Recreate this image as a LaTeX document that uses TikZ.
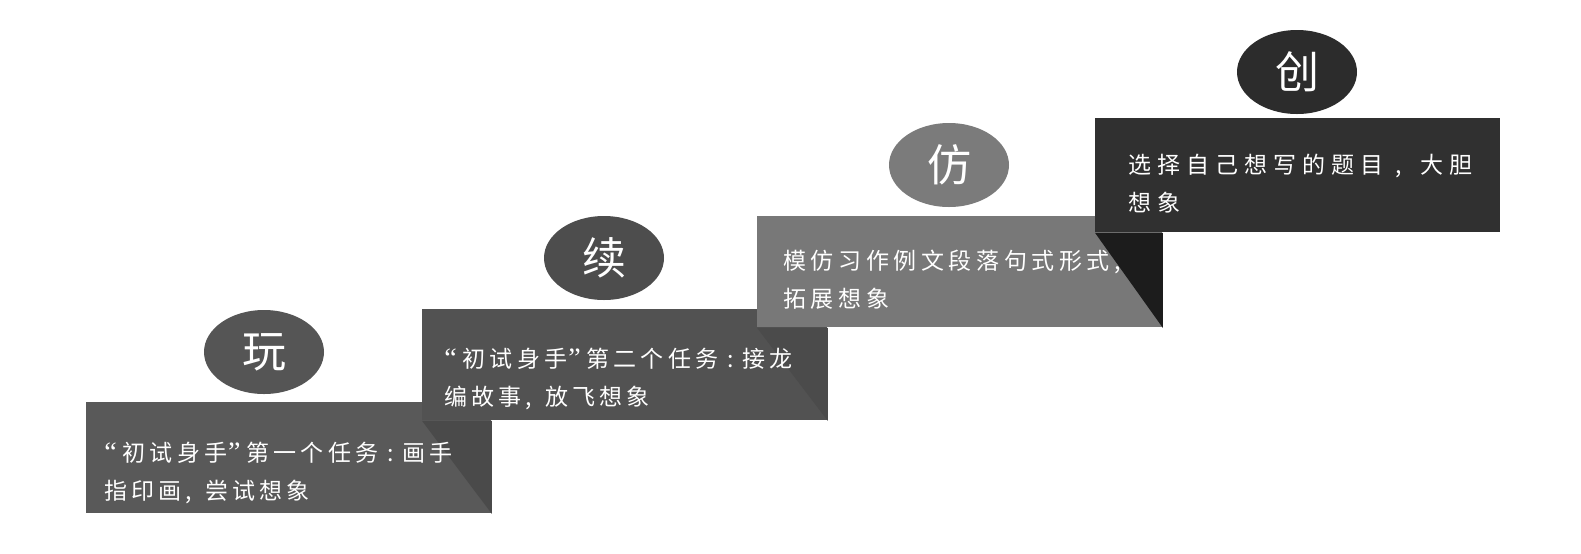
\documentclass[tikz,border=0pt]{standalone}
\usepackage{fontspec}
\setmainfont{Noto Sans CJK SC}
\newfontfamily\cjkA[LetterSpace=18]{Noto Sans CJK SC}
\newfontfamily\cjkB[LetterSpace=20]{Noto Sans CJK SC}
\newfontfamily\cjkC[LetterSpace=26]{Noto Sans CJK SC}
\newfontfamily\cjkT{Noto Sans CJK SC}
\newfontfamily\quotefont{Liberation Serif}
\newcommand{\qopen}{{\quotefont\fontsize{14}{19}\selectfont “}\hspace{3pt}}
\newcommand{\qclose}{\hspace{0.5pt}{\quotefont\fontsize{14}{19}\selectfont ”}\hspace{3pt}}
\usetikzlibrary{shapes.geometric}
\definecolor{boxA}{HTML}{595959}
\definecolor{triA}{HTML}{4A4A4A}
\definecolor{ellA}{HTML}{555555}
\definecolor{boxB}{HTML}{525252}
\definecolor{triB}{HTML}{4B4B4B}
\definecolor{ellB}{HTML}{4D4D4D}
\definecolor{boxC}{HTML}{787878}
\definecolor{triC}{HTML}{1C1C1C}
\definecolor{ellC}{HTML}{7B7B7B}
\definecolor{boxD}{HTML}{303030}
\definecolor{ellD}{HTML}{2C2C2C}
\tikzset{
  stepbox/.style={rectangle, draw=none, inner sep=0pt, minimum width=202.5pt, minimum height=55.5pt, anchor=north west},
  stepoval/.style={ellipse, draw=none, inner sep=0pt, minimum width=60pt, minimum height=42pt, text=white, font=\cjkT\fontsize{22}{24}\selectfont},
  steptext/.style={anchor=west, align=left, inner sep=0pt, text=white},
}
\begin{document}
\begin{tikzpicture}[x=0.5pt,y=-0.5pt]
\useasboundingbox[fill=white] (0,0) rectangle (1581,553);
% boxes and risers
\node[stepbox, fill=boxA] (b1) at (86,402) {};
\node[stepbox, fill=boxB] (b2) at (422,309) {};
\fill[triA] (b2.south west) -- (b1.east |- b2.south) -- (b1.south east) -- cycle;
\node[stepbox, fill=boxC] (b3) at (757,216) {};
\fill[triB] (b3.south west) -- (b2.east |- b3.south) -- (b2.south east) -- cycle;
\node[stepbox, fill=boxD, minimum height=57pt] (b4) at (1095,118) {};
\fill[triC] (b4.south west) -- (b3.east |- b4.south) -- (b3.south east) -- cycle;
% texts
\node[steptext, font=\cjkA\fontsize{11.5}{19}\selectfont] (t1) at (104,473) {\qopen 初试身手\qclose 第一个任务\hspace{4.5pt}:\hspace{4.5pt}画手\\指印画,\hspace{6.5pt}尝试想象};
\node[steptext, font=\cjkA\fontsize{11.5}{19}\selectfont] (t2) at (444,379) {\qopen 初试身手\qclose 第二个任务\hspace{4.5pt}:\hspace{4.5pt}接龙\\编故事,\hspace{6.5pt}放飞想象};
\node[steptext, font=\cjkB\fontsize{11.5}{19}\selectfont] (t3) at (783,280) {模仿习作例文段落句式形式,\\拓展想象};
\node[steptext, font=\cjkC\fontsize{11.5}{19}\selectfont] (t4) at (1128,184) {选择自己想写的题目\hspace{6pt},\hspace{9.5pt}大胆\\想象};
% ovals
\node[stepoval, fill=ellA] (e1) at (264,352) {玩};
\node[stepoval, fill=ellB] (e2) at (604,258) {续};
\node[stepoval, fill=ellC] (e3) at (949,165) {仿};
\node[stepoval, fill=ellD] (e4) at (1297,72) {创};
\end{tikzpicture}
\end{document}
